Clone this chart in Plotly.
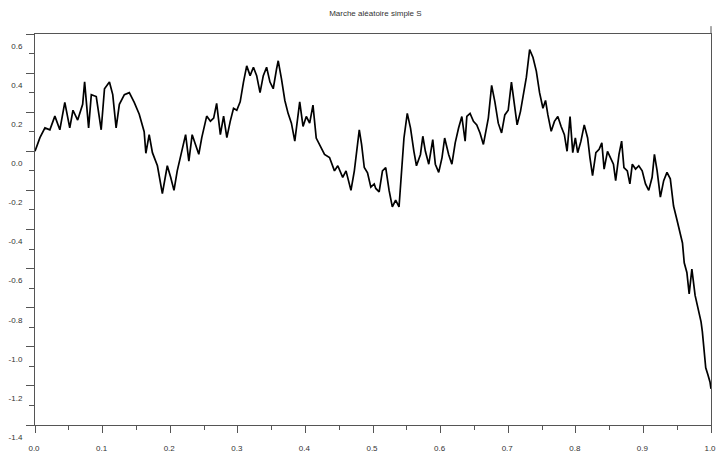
import plotly.graph_objects as go

# Simple random walk S on [0, 1]: sampled positions (t) and walk values (s)
t = [
    0.0000, 0.0073, 0.0147, 0.0220, 0.0294, 0.0367, 0.0441, 0.0514,
    0.0562, 0.0631, 0.0705, 0.0734, 0.0793, 0.0833, 0.0906, 0.0979,
    0.1028, 0.1101, 0.1150, 0.1200, 0.1248, 0.1322, 0.1395, 0.1468,
    0.1542, 0.1615, 0.1640, 0.1689, 0.1737, 0.1811, 0.1884, 0.1957,
    0.2007, 0.2056, 0.2104, 0.2178, 0.2228, 0.2276, 0.2325, 0.2374,
    0.2423, 0.2467, 0.2540, 0.2595, 0.2643, 0.2687, 0.2742, 0.2790,
    0.2838, 0.2888, 0.2937, 0.2985, 0.3035, 0.3084, 0.3132, 0.3182,
    0.3231, 0.3279, 0.3329, 0.3377, 0.3426, 0.3476, 0.3524, 0.3573,
    0.3598, 0.3646, 0.3696, 0.3744, 0.3793, 0.3843, 0.3891, 0.3916,
    0.3965, 0.4013, 0.4063, 0.4112, 0.4160, 0.4210, 0.4283, 0.4357,
    0.4430, 0.4479, 0.4552, 0.4601, 0.4674, 0.4724, 0.4762, 0.4797,
    0.4831, 0.4871, 0.4919, 0.4968, 0.5018, 0.5041, 0.5091, 0.5140,
    0.5188, 0.5238, 0.5286, 0.5335, 0.5385, 0.5408, 0.5458, 0.5507,
    0.5555, 0.5605, 0.5643, 0.5702, 0.5737, 0.5775, 0.5825, 0.5884,
    0.5922, 0.5972, 0.6021, 0.6060, 0.6119, 0.6167, 0.6216, 0.6266,
    0.6314, 0.6363, 0.6388, 0.6436, 0.6486, 0.6535, 0.6583, 0.6633,
    0.6681, 0.6706, 0.6755, 0.6803, 0.6853, 0.6902, 0.6950, 0.7000,
    0.7048, 0.7097, 0.7132, 0.7181, 0.7220, 0.7269, 0.7317, 0.7367,
    0.7416, 0.7464, 0.7514, 0.7552, 0.7587, 0.7636, 0.7684, 0.7734,
    0.7783, 0.7831, 0.7871, 0.7915, 0.7955, 0.7993, 0.8028, 0.8076,
    0.8125, 0.8175, 0.8209, 0.8248, 0.8297, 0.8345, 0.8385, 0.8419,
    0.8469, 0.8517, 0.8557, 0.8590, 0.8639, 0.8678, 0.8712, 0.8762,
    0.8800, 0.8836, 0.8884, 0.8932, 0.8982, 0.9031, 0.9079, 0.9129,
    0.9163, 0.9203, 0.9251, 0.9300, 0.9349, 0.9398, 0.9446, 0.9496,
    0.9545, 0.9578, 0.9604, 0.9643, 0.9677, 0.9717, 0.9765, 0.9813,
    0.9853, 0.9872, 0.9901, 0.9922, 0.9952, 0.9985, 1.0000,
]
s = [
    0.000, 0.070, 0.120, 0.110, 0.180, 0.110, 0.250, 0.120,
    0.210, 0.160, 0.240, 0.355, 0.120, 0.290, 0.280, 0.110,
    0.320, 0.354, 0.290, 0.120, 0.240, 0.290, 0.300, 0.250,
    0.190, 0.100, -0.010, 0.085, -0.007, -0.074, -0.217, -0.074,
    -0.133, -0.200, -0.100, 0.018, 0.085, -0.050, 0.085, 0.035,
    -0.015, 0.070, 0.180, 0.154, 0.170, 0.245, 0.085, 0.180,
    0.070, 0.153, 0.220, 0.210, 0.253, 0.354, 0.437, 0.387,
    0.430, 0.387, 0.300, 0.387, 0.430, 0.354, 0.320, 0.420,
    0.463, 0.370, 0.260, 0.194, 0.144, 0.052, 0.203, 0.253,
    0.127, 0.178, 0.144, 0.236, 0.068, 0.035, -0.016, -0.032,
    -0.100, -0.074, -0.133, -0.100, -0.200, -0.100, 0.018, 0.110,
    0.035, -0.083, -0.110, -0.183, -0.167, -0.190, -0.208, -0.100,
    -0.083, -0.200, -0.284, -0.250, -0.284, -0.183, 0.068, 0.194,
    0.119, 0.000, -0.074, -0.016, 0.077, 0.000, -0.066, 0.060,
    -0.066, -0.108, -0.032, 0.068, -0.016, -0.066, 0.043, 0.119,
    0.178, 0.052, 0.178, 0.194, 0.153, 0.135, 0.094, 0.035,
    0.119, 0.170, 0.337, 0.253, 0.144, 0.094, 0.186, 0.210,
    0.354, 0.236, 0.135, 0.203, 0.278, 0.379, 0.520, 0.480,
    0.410, 0.300, 0.220, 0.260, 0.186, 0.102, 0.153, 0.178,
    0.127, 0.085, 0.000, 0.178, -0.007, 0.068, -0.007, 0.052,
    0.135, 0.068, -0.032, -0.124, -0.007, 0.010, 0.043, -0.091,
    0.000, -0.032, -0.066, -0.150, -0.016, 0.052, -0.083, -0.100,
    -0.167, -0.066, -0.091, -0.074, -0.100, -0.167, -0.200, -0.133,
    -0.016, -0.100, -0.234, -0.150, -0.108, -0.141, -0.280, -0.350,
    -0.430, -0.469, -0.570, -0.620, -0.729, -0.603, -0.737, -0.804,
    -0.872, -0.922, -1.040, -1.107, -1.140, -1.180, -1.215,
]

x_ticks = [0.0, 0.1, 0.2, 0.3, 0.4, 0.5, 0.6, 0.7, 0.8, 0.9, 1.0]
x_labels = ["0.0", "0.1", "0.2", "0.3", "0.4", "0.5", "0.6", "0.7", "0.8", "0.9", "1.0"]
y_ticks = [-1.4, -1.2, -1.0, -0.8, -0.6, -0.4, -0.2, 0.0, 0.2, 0.4, 0.6]
y_labels = ["-1.4", "-1.2", "-1.0", "-0.8", "-0.6", "-0.4", "-0.2", "0.0", "0.2", "0.4", "0.6"]

title_text = "Marche aléatoire simple S"

AX = "#555555"
FONT = dict(family="Liberation Sans, Arial, sans-serif", size=8, color="#333333")

fig = go.Figure(
    go.Scatter(x=t, y=s, mode="lines", line=dict(color="black", width=1.7),
               hoverinfo="skip")
)

fig.update_layout(
    width=724, height=461,
    margin=dict(l=35, r=8, t=34, b=29),
    paper_bgcolor="white", plot_bgcolor="white",
    showlegend=False,
    title=dict(text=title_text, x=0.5185, xanchor="center",
               y=1 - 13 / 461, yanchor="middle", font=FONT),
    xaxis=dict(
        range=[0, 1], tickvals=x_ticks, ticktext=x_labels,
        ticks="outside", ticklen=7, tickwidth=1, tickcolor=AX,
        showline=True, linecolor=AX, linewidth=1, mirror=True,
        showgrid=False, zeroline=False, tickfont=FONT,
        ticklabelstandoff=8, ticklabelshift=-1,
        minor=dict(tick0=0, dtick=0.05, ticks="outside", ticklen=4,
                   tickcolor=AX, tickwidth=1, showgrid=False),
    ),
    yaxis=dict(
        range=[-1.4, 0.6], tickvals=y_ticks, ticktext=y_labels,
        ticks="outside", ticklen=8, tickwidth=1, tickcolor=AX,
        showline=True, linecolor=AX, linewidth=1, mirror=True,
        showgrid=False, zeroline=False, tickfont=FONT,
        ticklabelstandoff=2, ticklabelshift=12,
        minor=dict(tick0=0, dtick=0.1, ticks="outside", ticklen=5,
                   tickcolor=AX, tickwidth=1, showgrid=False),
    ),
    shapes=[
        # right frame edge runs a little above the top edge
        dict(type="line", xref="paper", yref="paper", x0=1, x1=1,
             y0=1, y1=1 + 8 / 398, line=dict(color=AX, width=1)),
    ],
)

fig.write_html("out.html")
